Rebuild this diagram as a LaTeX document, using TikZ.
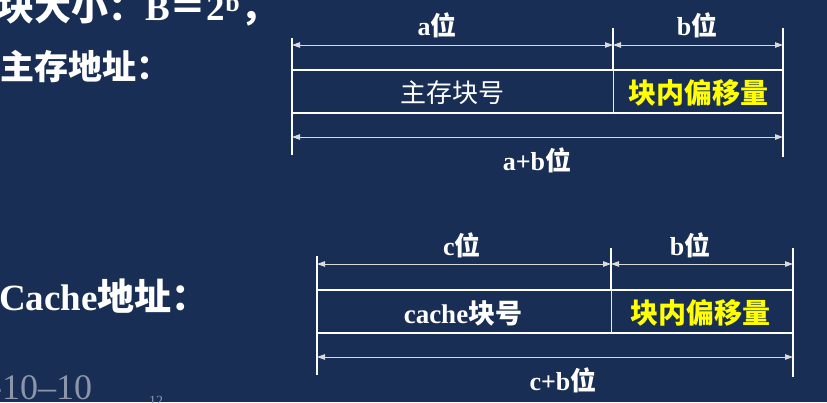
\documentclass[tikz,border=0pt]{standalone}
\usepackage{fontspec}
\setmainfont{Liberation Serif}
\newfontfamily\cjk{Noto Sans CJK SC}
\usetikzlibrary{arrows.meta}
\definecolor{bg}{RGB}{25,46,84}
\definecolor{ylw}{RGB}{255,255,0}
\definecolor{dimc}{RGB}{218,218,218}
\definecolor{faint}{RGB}{140,150,168}
\newcommand{\zh}[1]{{\cjk #1}}
\begin{document}
\begin{tikzpicture}[x=1pt,y=-1pt,
  ext/.style={white, line width=2pt},
  boxline/.style={white, line width=2.4pt},
  divline/.style={white!85!gray, line width=1pt},
  dimline/.style={dimc, line width=0.9pt, {Triangle[length=8pt,width=5.5pt]}-{Triangle[length=8pt,width=5.5pt]}},
  lbl/.style={white, font=\fontsize{26}{26}\selectfont\bfseries, inner sep=0pt},
  fieldw/.style={white, font=\fontsize{26}{26}\selectfont, inner sep=0pt},
  fieldy/.style={ylw, font=\fontsize{28}{28}\selectfont\bfseries, inner sep=0pt},
  big/.style={white, font=\fontsize{34}{34}\selectfont\bfseries, inner sep=0pt, anchor=west}]
\useasboundingbox (0,0) rectangle (827,402);
\clip (0,0) rectangle (827,402);
\fill[bg] (0,0) rectangle (827,402);

% left labels
\node[big, font=\fontsize{37}{37}\selectfont\bfseries] (t0) at (-3,8) {\zh{块大小：}B\zh{＝}2\textsuperscript{b}\zh{，}};
\node[big] (t1) at (0,67) {\zh{主存地址：}};
\node[big, font=\fontsize{37}{37}\selectfont\bfseries] (t2) at (-1,296) {Cache\zh{地址：}};
\node[faint, font=\fontsize{36}{36}\selectfont, inner sep=0pt, anchor=west] (t3) at (-10,388) {-10–10};
\node[faint, font=\fontsize{14}{14}\selectfont, inner sep=0pt] (t4) at (156,401) {12};

% ---------- main memory address ----------
\coordinate (aL1) at (292,38);  \coordinate (aL2) at (292,155);
\coordinate (aM1) at (613,28);  \coordinate (aM2) at (613,70);
\coordinate (aR1) at (783,28);  \coordinate (aR2) at (783,157);
\draw[ext] (aL1) -- (aL2);
\draw[ext] (aR1) -- (aR2);
\draw[ext] (aM1) -- (aM2);
\coordinate (aTL) at (292,70); \coordinate (aTR) at (783,70);
\coordinate (aBL) at (292,113); \coordinate (aBR) at (783,113);
\coordinate (aD2) at (613,113);
\draw[boxline] (aTL) -- (aTR);
\draw[boxline] (aBL) -- (aBR);
\draw[divline] (aM2) -- (aD2);
\coordinate (ad1) at (292,45); \coordinate (ad2) at (613,45); \coordinate (ad3) at (783,45);
\draw[dimline] (ad1) -- (ad2);
\draw[dimline] (ad2) -- (ad3);
\coordinate (ae1) at (292,137); \coordinate (ae2) at (783,137);
\draw[dimline] (ae1) -- (ae2);
\node[lbl] (la) at (437,25) {a\zh{位}};
\node[lbl] (lb) at (697,25) {b\zh{位}};
\node[lbl] (lab) at (537,160) {a+b\zh{位}};
\node[fieldw] (f1) at (452,93) {\zh{主存块号}};
\node[fieldy] (f2) at (698,93) {\zh{块内偏移量}};

% ---------- cache address ----------
\coordinate (cL1) at (317,256); \coordinate (cL2) at (317,375);
\coordinate (cM1) at (611,248); \coordinate (cM2) at (611,290);
\coordinate (cR1) at (793,248); \coordinate (cR2) at (793,377);
\draw[ext] (cL1) -- (cL2);
\draw[ext] (cR1) -- (cR2);
\draw[ext] (cM1) -- (cM2);
\coordinate (cTL) at (317,290); \coordinate (cTR) at (793,290);
\coordinate (cBL) at (317,333); \coordinate (cBR) at (793,333);
\coordinate (cD2) at (611,333);
\draw[boxline] (cTL) -- (cTR);
\draw[boxline] (cBL) -- (cBR);
\draw[divline] (cM2) -- (cD2);
\coordinate (cd1) at (317,264); \coordinate (cd2) at (611,264); \coordinate (cd3) at (793,264);
\draw[dimline] (cd1) -- (cd2);
\draw[dimline] (cd2) -- (cd3);
\coordinate (ce1) at (317,357); \coordinate (ce2) at (793,357);
\draw[dimline] (ce1) -- (ce2);
\node[lbl] (lc) at (462,245) {c\zh{位}};
\node[lbl] (lb2) at (690,245) {b\zh{位}};
\node[lbl] (lcb) at (563,380) {c+b\zh{位}};
\node[fieldw, font=\fontsize{27}{27}\selectfont\bfseries] (g1) at (463,313) {cache\zh{块号}};
\node[fieldy] (g2) at (700,313) {\zh{块内偏移量}};
\end{tikzpicture}
\end{document}
